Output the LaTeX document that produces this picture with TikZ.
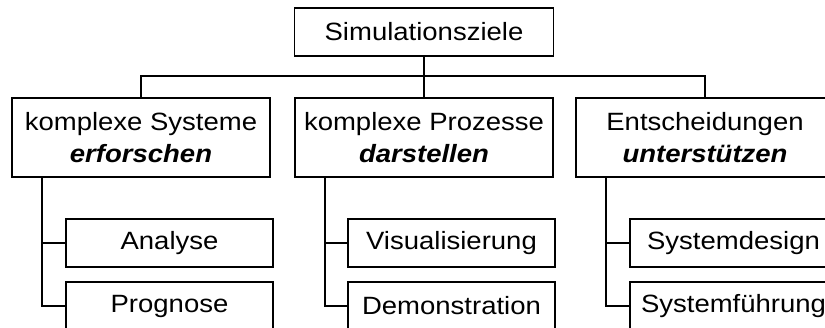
\documentclass[tikz,border=0pt]{standalone}
\usepackage{fontspec}
\setmainfont{Liberation Sans}[FakeStretch=1.1]
\begin{document}
\begin{tikzpicture}[x=1pt,y=-1pt,line width=1.7pt,
  box/.style={draw,inner sep=0pt,align=center,font=\fontsize{25}{32}\selectfont},
  goal/.style={box,minimum width=259pt,minimum height=48pt},
  area/.style={box,minimum width=258pt,minimum height=79pt},
  task/.style={box,minimum width=207pt,minimum height=48pt}]
\useasboundingbox (0,0) rectangle (825,327);
\clip (0,0) rectangle (825,327);

% root
\node[goal] (top) at (424,32) {Simulationsziele};

% second level
\node[area] (l2a) at (141,137.5) {komplexe Systeme\\{\bfseries\itshape erforschen}};
\node[area] (l2b) at (424,137.5) {komplexe Prozesse\\{\bfseries\itshape darstellen}};
\node[area] (l2c) at (705,137.5) {Entscheidungen\\{\bfseries\itshape unterst\"utzen}};

% third level
\node[task] (a1) at (169.5,243) {Analyse};
\node[task] (a2) at (169.5,306) {Prognose};
\node[task] (b1) at (451.5,243) {Visualisierung};
\node[task] (b2) at (451.5,306) {Demonstration};
\node[task] (c1) at (733.5,243) {Systemdesign};
\node[task] (c2) at (733.5,306) {Systemf\"uhrung};

% root to second level
\draw (top.south) -- (l2b.north);
\draw (l2a.north) -- ++(0,-21) -| (l2c.north);

% second level to third level
\draw ([xshift=31pt]l2a.south west) |- (a1.west);
\draw ([xshift=31pt]l2a.south west) |- (a2.west);
\draw ([xshift=31pt]l2b.south west) |- (b1.west);
\draw ([xshift=31pt]l2b.south west) |- (b2.west);
\draw ([xshift=31pt]l2c.south west) |- (c1.west);
\draw ([xshift=31pt]l2c.south west) |- (c2.west);
\end{tikzpicture}
\end{document}
